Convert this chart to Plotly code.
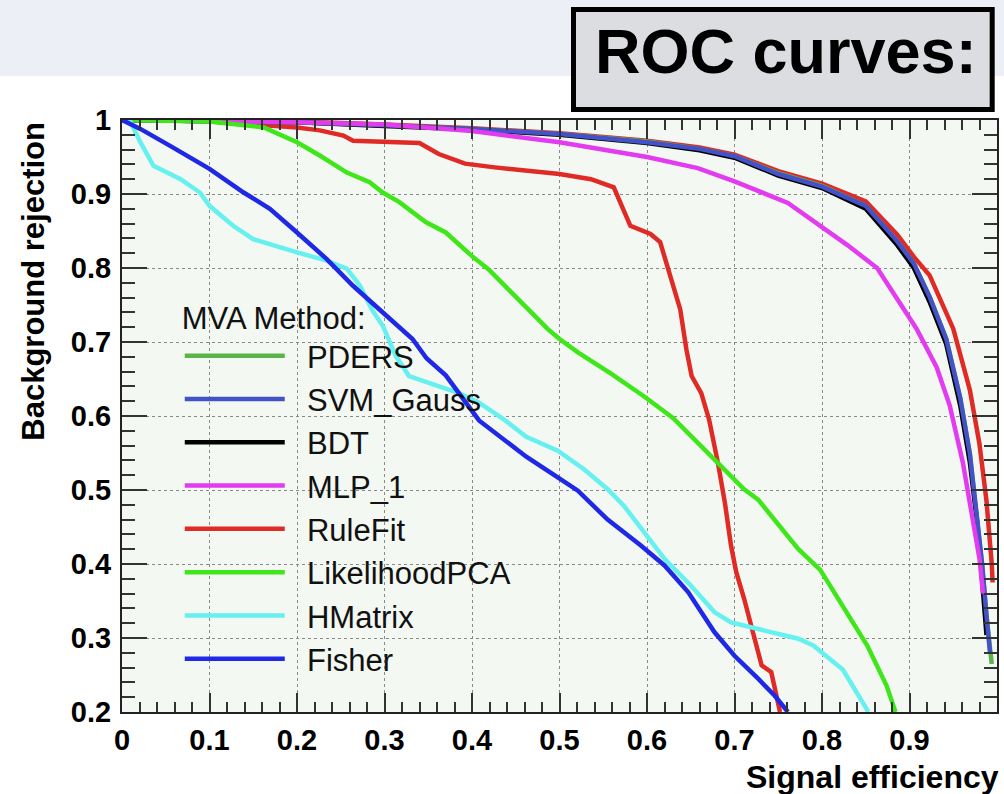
import plotly.graph_objects as go

# ---------------- data ----------------
pders_x = [0, 0.1, 0.2, 0.3, 0.4, 0.5, 0.6, 0.66, 0.7, 0.75, 0.8, 0.85, 0.886, 0.905, 0.923, 0.942, 0.958, 0.969, 0.977, 0.983, 0.988, 0.992, 0.994]
pders_y = [1.0, 0.999, 0.997, 0.993, 0.988, 0.981, 0.971, 0.961, 0.951, 0.928, 0.911, 0.884, 0.836, 0.806, 0.761, 0.704, 0.624, 0.548, 0.468, 0.398, 0.33, 0.285, 0.265]

svm_x = [0, 0.1, 0.2, 0.3, 0.4, 0.5, 0.6, 0.66, 0.7, 0.75, 0.8, 0.85, 0.886, 0.905, 0.923, 0.942, 0.958, 0.969, 0.977, 0.983, 0.988, 0.992]
svm_y = [1.0, 0.999, 0.997, 0.993, 0.988, 0.981, 0.97, 0.961, 0.951, 0.927, 0.91, 0.884, 0.836, 0.806, 0.761, 0.704, 0.624, 0.549, 0.47, 0.4, 0.33, 0.28]

bdt_x = [0, 0.1, 0.2, 0.3, 0.4, 0.5, 0.6, 0.66, 0.7, 0.75, 0.8, 0.85, 0.886, 0.905, 0.923, 0.942, 0.958, 0.969, 0.977, 0.982, 0.988]
bdt_y = [1.0, 0.999, 0.997, 0.992, 0.987, 0.98, 0.969, 0.959, 0.949, 0.925, 0.908, 0.88, 0.831, 0.8, 0.754, 0.697, 0.614, 0.537, 0.459, 0.392, 0.304]

mlp_x = [0, 0.1, 0.2, 0.3, 0.4, 0.5, 0.6, 0.658, 0.7, 0.761, 0.798, 0.829, 0.863, 0.886, 0.908, 0.931, 0.946, 0.961, 0.973, 0.98, 0.984]
mlp_y = [1.0, 0.999, 0.997, 0.994, 0.985, 0.97, 0.95, 0.935, 0.917, 0.888, 0.857, 0.831, 0.8, 0.759, 0.718, 0.666, 0.614, 0.537, 0.459, 0.407, 0.36]

rulefit_x = [0, 0.1, 0.2, 0.3, 0.4, 0.5, 0.6, 0.66, 0.7, 0.75, 0.8, 0.85, 0.886, 0.905, 0.923, 0.95, 0.969, 0.98, 0.988, 0.994, 0.995]
rulefit_y = [1.0, 0.999, 0.998, 0.994, 0.989, 0.982, 0.972, 0.963, 0.953, 0.931, 0.914, 0.89, 0.845, 0.815, 0.79, 0.718, 0.635, 0.562, 0.485, 0.4, 0.375]

red2_x = [0, 0.086, 0.112, 0.2, 0.226, 0.253, 0.264, 0.298, 0.34, 0.362, 0.392, 0.426, 0.464, 0.5, 0.536, 0.562, 0.581, 0.604, 0.615, 0.626, 0.638, 0.645, 0.651, 0.662, 0.671, 0.681, 0.689, 0.696, 0.702, 0.711, 0.723, 0.731, 0.742, 0.748, 0.752]
red2_y = [1.0, 1.0, 0.997, 0.99, 0.986, 0.979, 0.972, 0.97, 0.969, 0.954, 0.941, 0.936, 0.932, 0.927, 0.92, 0.909, 0.857, 0.846, 0.835, 0.789, 0.744, 0.69, 0.654, 0.631, 0.595, 0.537, 0.483, 0.425, 0.389, 0.353, 0.299, 0.263, 0.254, 0.222, 0.2]

lik_x = [0, 0.1, 0.162, 0.2, 0.226, 0.257, 0.283, 0.298, 0.317, 0.347, 0.37, 0.4, 0.419, 0.453, 0.487, 0.5, 0.521, 0.558, 0.596, 0.63, 0.677, 0.711, 0.727, 0.742, 0.773, 0.798, 0.825, 0.852, 0.874, 0.884]
lik_y = [1.0, 0.998, 0.99, 0.97, 0.952, 0.929, 0.916, 0.902, 0.889, 0.862, 0.848, 0.816, 0.798, 0.758, 0.717, 0.704, 0.686, 0.658, 0.627, 0.597, 0.541, 0.501, 0.487, 0.465, 0.42, 0.392, 0.34, 0.289, 0.235, 0.2]

hm_x = [0, 0.01, 0.021, 0.036, 0.067, 0.089, 0.1, 0.127, 0.15, 0.173, 0.2, 0.234, 0.257, 0.272, 0.286, 0.298, 0.313, 0.328, 0.362, 0.385, 0.408, 0.438, 0.462, 0.498, 0.528, 0.555, 0.574, 0.597, 0.62, 0.65, 0.677, 0.696, 0.727, 0.773, 0.79, 0.824, 0.853]
hm_y = [1.0, 0.997, 0.97, 0.938, 0.92, 0.902, 0.884, 0.857, 0.839, 0.83, 0.821, 0.81, 0.799, 0.776, 0.743, 0.722, 0.681, 0.654, 0.64, 0.631, 0.618, 0.594, 0.572, 0.553, 0.528, 0.501, 0.478, 0.442, 0.407, 0.371, 0.335, 0.321, 0.312, 0.299, 0.29, 0.257, 0.2]

fisher_x = [0, 0.021, 0.055, 0.1, 0.139, 0.169, 0.2, 0.234, 0.264, 0.294, 0.332, 0.348, 0.37, 0.408, 0.462, 0.498, 0.521, 0.555, 0.593, 0.62, 0.647, 0.677, 0.7, 0.727, 0.746, 0.761]
fisher_y = [1.0, 0.988, 0.965, 0.934, 0.902, 0.88, 0.848, 0.812, 0.776, 0.744, 0.704, 0.678, 0.655, 0.594, 0.545, 0.517, 0.499, 0.46, 0.425, 0.398, 0.362, 0.308, 0.276, 0.245, 0.222, 0.2]

method_names = ["PDERS", "SVM_Gauss", "BDT", "MLP_1", "RuleFit", "LikelihoodPCA", "HMatrix", "Fisher"]
tick_vals_x = [0, 0.1, 0.2, 0.3, 0.4, 0.5, 0.6, 0.7, 0.8, 0.9, 1.0]
tick_text_x = ["0", "0.1", "0.2", "0.3", "0.4", "0.5", "0.6", "0.7", "0.8", "0.9", "1"]
tick_vals_y = [0.2, 0.3, 0.4, 0.5, 0.6, 0.7, 0.8, 0.9, 1.0]
tick_text_y = ["0.2", "0.3", "0.4", "0.5", "0.6", "0.7", "0.8", "0.9", "1"]

# ---------------- styles ----------------
colors = {
    "PDERS": "#5AB44A",
    "SVM_Gauss": "#4452C8",
    "BDT": "#000000",
    "MLP_1": "#E33BEF",
    "RuleFit": "#E02A25",
    "LikelihoodPCA": "#3FE61A",
    "HMatrix": "#66F0F0",
    "Fisher": "#1E28E6",
}
series = {
    "PDERS": (pders_x, pders_y),
    "SVM_Gauss": (svm_x, svm_y),
    "BDT": (bdt_x, bdt_y),
    "MLP_1": (mlp_x, mlp_y),
    "RuleFit": (rulefit_x, rulefit_y),
    "LikelihoodPCA": (lik_x, lik_y),
    "HMatrix": (hm_x, hm_y),
    "Fisher": (fisher_x, fisher_y),
}

fig = go.Figure()

draw_order = ["RuleFit", "PDERS", "BDT", "SVM_Gauss", "MLP_1", "LikelihoodPCA", "HMatrix", "Fisher"]
rank = {n: i for i, n in enumerate(method_names)}
GAP = "\u00a0\u00a0"  # gap between legend line sample and label

fig.add_trace(go.Scatter(x=red2_x, y=red2_y, mode="lines", name="RuleFit (cut)",
                         line=dict(color=colors["RuleFit"], width=4.5), showlegend=False))
for name in draw_order:
    xs, ys = series[name]
    fig.add_trace(go.Scatter(x=xs, y=ys, mode="lines", name=GAP + name,
                             line=dict(color=colors[name], width=4.5),
                             legendrank=rank[name] + 1))

FONT = "Liberation Sans, Arial, Helvetica, sans-serif"

axis_common = dict(
    ticks="inside", tickwidth=2, tickcolor="#333333",
    showline=True, linewidth=2, linecolor="#222222", mirror="ticks",
    showgrid=True, gridcolor="#8a8a8a", gridwidth=1, griddash="dot",
    zeroline=False,
    tickfont=dict(family=FONT, size=29, color="#000000", weight="bold"),
)
fig.update_xaxes(
    range=[0, 1], tickvals=tick_vals_x, ticktext=tick_text_x, ticklen=19,
    minor=dict(dtick=0.02, ticks="inside", ticklen=10, tickwidth=2, tickcolor="#333333", showgrid=False),
    ticklabelstandoff=1, **axis_common,
)
fig.update_yaxes(
    range=[0.2, 1], tickvals=tick_vals_y, ticktext=tick_text_y, ticklen=25,
    minor=dict(dtick=0.02, ticks="inside", ticklen=13, tickwidth=2, tickcolor="#333333", showgrid=False),
    ticklabelstandoff=3, **axis_common,
)

fig.update_layout(
    width=1004, height=794, autosize=False,
    margin=dict(l=122, r=5, t=120, b=82),
    paper_bgcolor="#FFFFFF",
    plot_bgcolor="#F4F8F3",
    font=dict(family=FONT, color="#000000"),
    legend=dict(
        title=dict(text="MVA Method:", font=dict(family=FONT, size=31, color="#111111")),
        font=dict(family=FONT, size=31, color="#111111"),
        x=0.066, y=0.715, xanchor="left", yanchor="top",
        bgcolor="rgba(0,0,0,0)", borderwidth=0,
        itemwidth=100, tracegroupgap=0,
    ),
    shapes=[
        dict(type="rect", xref="paper", yref="paper", x0=-0.2, x1=1.1, y0=1.0743, y1=1.25,
             fillcolor="#ECEFF6", line=dict(width=0), layer="below"),
        dict(type="rect", xref="paper", yref="paper", x0=0.516, x1=0.9945, y0=1.0177, y1=1.1867,
             fillcolor="#DCDDE0", line=dict(color="#000000", width=5), layer="above"),
    ],
    annotations=[
        dict(text="ROC curves:", xref="paper", yref="paper", x=0.7585, y=1.1166, xanchor="center",
             yanchor="middle", showarrow=False,
             font=dict(family=FONT, size=63, color="#000000", weight="bold")),
        dict(text="Signal efficiency", xref="paper", yref="paper", x=1.0, y=-0.11, xshift=4,
             xanchor="right", yanchor="middle", showarrow=False,
             font=dict(family=FONT, size=32, color="#000000", weight="bold")),
        dict(text="Background rejection", xref="paper", yref="paper", x=-0.1015, y=1.0,
             xanchor="center", yanchor="top", textangle=-90, showarrow=False,
             font=dict(family=FONT, size=31, color="#000000", weight="bold")),
    ],
)

fig.write_html("out.html")
